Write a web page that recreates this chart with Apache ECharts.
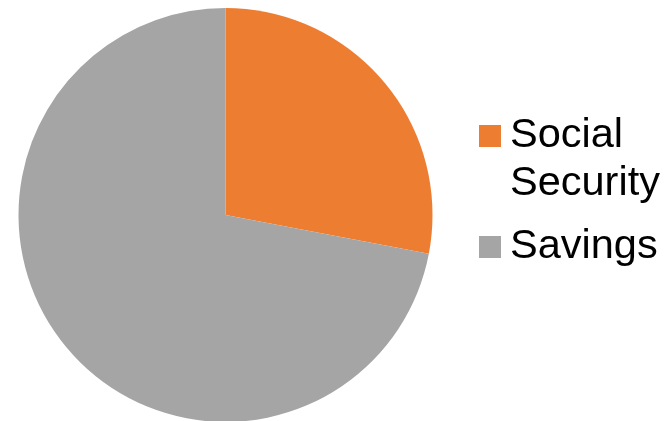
<!DOCTYPE html>
<html>
<head>
<meta charset="utf-8">
<script src="https://cdn.jsdelivr.net/npm/echarts@6/dist/echarts.min.js"></script>
<style>
  html, body { margin: 0; padding: 0; background: #fff; }
  #chart { width: 671px; height: 421px; }
</style>
</head>
<body>
<div id="chart"></div>
<script>
(function() {
  var categories = ['Social Security', 'Savings'];
  var values = [28, 72];
  var colors = ['#ED7D31', '#A5A5A5'];

  var chart = echarts.init(document.getElementById('chart'), null, { renderer: 'canvas' });

  var data = categories.map(function(name, i) {
    return { name: name, value: values[i], itemStyle: { color: colors[i] } };
  });

  var option = {
    animation: false,
    legend: {
      orient: 'vertical',
      left: 479,
      top: 64,
      padding: 0,
      itemWidth: 22,
      itemHeight: 22,
      itemGap: 15,
      icon: 'rect',
      selectedMode: false,
      // blank first line keeps the icon level with "Social"
      formatter: function(name) {
        return name === 'Social Security' ? ' \nSocial\nSecurity' : name;
      },
      textStyle: {
        fontFamily: 'Liberation Sans, Arial, sans-serif',
        fontSize: 41.5,
        lineHeight: 48,
        color: '#000',
        padding: [0, 0, 0, 4]
      },
      data: categories
    },
    series: [{
      type: 'pie',
      center: [225.5, 215],
      radius: 207,
      startAngle: 90,
      clockwise: true,
      label: { show: false },
      labelLine: { show: false },
      emphasis: { disabled: true },
      data: data
    }]
  };

  chart.setOption(option);
})();
</script>
</body>
</html>
